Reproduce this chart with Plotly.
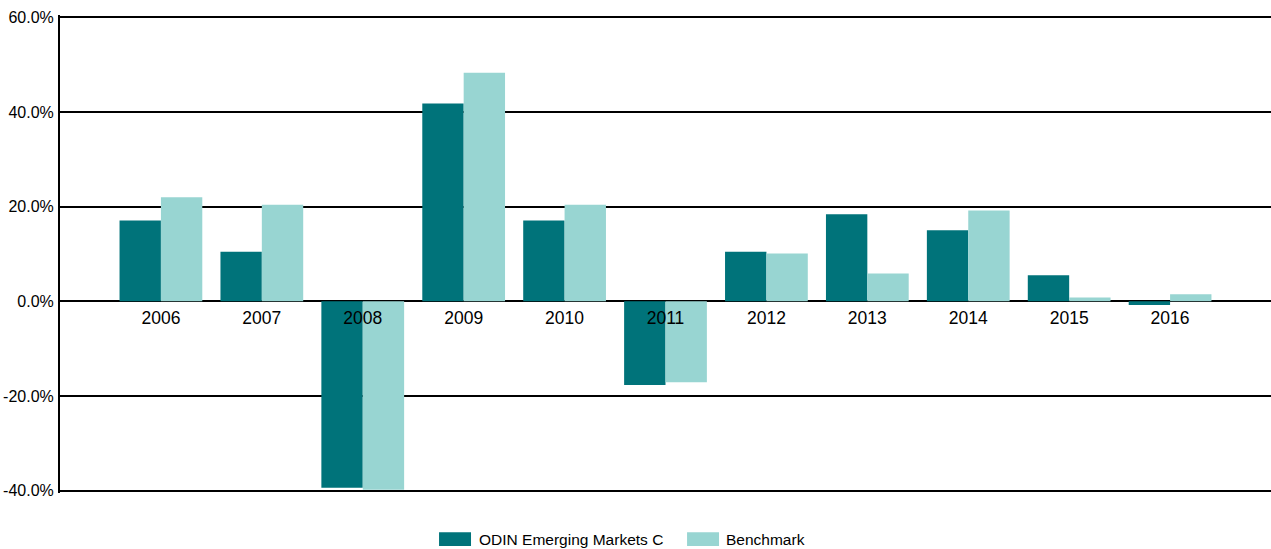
import plotly.graph_objects as go

years = ["2006", "2007", "2008", "2009", "2010", "2011", "2012", "2013", "2014", "2015", "2016"]
odin_values = [17.1, 10.5, -39.4, 41.8, 17.1, -17.7, 10.5, 18.4, 15.0, 5.5, -0.8]
benchmark_values = [22.0, 20.4, -39.8, 48.3, 20.4, -17.1, 10.1, 5.9, 19.2, 0.8, 1.5]

y_tick_values = [-40, -20, 0, 20, 40, 60]
y_tick_labels = ["-40.0%", "-20.0%", "0.0%", "20.0%", "40.0%", "60.0%"]

series_names = ["ODIN Emerging Markets C", "Benchmark"]
series_colors = ["#00737a", "#98d5d2"]

FONT = "Arial, Liberation Sans, sans-serif"

# y range is padded so plotly still draws the -40 and 60 gridlines at the edges
Y_MIN, Y_MAX = -40.5, 60.5


def build_figure():
    fig = go.Figure()
    for name, values, color in zip(series_names, [odin_values, benchmark_values], series_colors):
        fig.add_trace(
            go.Bar(
                x=years,
                y=values,
                name=name,
                marker=dict(color=color, line=dict(width=0)),
                showlegend=False,
            )
        )

    fig.update_layout(
        width=1271,
        height=549,
        margin=dict(l=60, r=0, t=14.63, b=55.63, autoexpand=False),
        paper_bgcolor="white",
        plot_bgcolor="white",
        barmode="group",
        bargap=0.18,
        bargroupgap=0,
        font=dict(family=FONT, size=16, color="black"),
        xaxis=dict(
            type="category",
            range=[-1, 11],
            anchor="free",
            position=-Y_MIN / (Y_MAX - Y_MIN),
            showgrid=False,
            zeroline=False,
            showline=False,
            ticks="",
            ticklabelstandoff=4,
            automargin=False,
            tickfont=dict(size=17.5, color="black"),
        ),
        yaxis=dict(
            range=[Y_MIN, Y_MAX],
            tickvals=y_tick_values,
            ticktext=y_tick_labels,
            showgrid=True,
            gridcolor="black",
            gridwidth=2,
            zeroline=True,
            zerolinecolor="black",
            zerolinewidth=2,
            showline=True,
            linecolor="black",
            linewidth=2,
            ticks="",
            ticklabelstandoff=1,
            automargin=False,
            tickfont=dict(size=16, color="black"),
        ),
    )

    # legend drawn below the plot, wide swatches like the original
    swatch_x = [(0.3130, 0.3394), (0.5178, 0.5442)]
    text_x = [0.3443, 0.5483]
    for name, color, (x0, x1), tx in zip(series_names, series_colors, swatch_x, text_x):
        fig.add_shape(
            type="rect", xref="paper", yref="paper",
            x0=x0, x1=x1, y0=-0.111, y1=-0.082,
            fillcolor=color, line=dict(width=0),
        )
        fig.add_annotation(
            xref="paper", yref="paper", x=tx, y=-0.0965,
            xanchor="left", yanchor="middle", showarrow=False,
            text=name, font=dict(size=15.5, color="black"),
        )
    return fig


fig = build_figure()
# drop the default body margin so the chart sits flush with the window
fig.write_html(
    "out.html",
    config={"displayModeBar": False},
    post_script="document.body.style.margin = '0';",
)
